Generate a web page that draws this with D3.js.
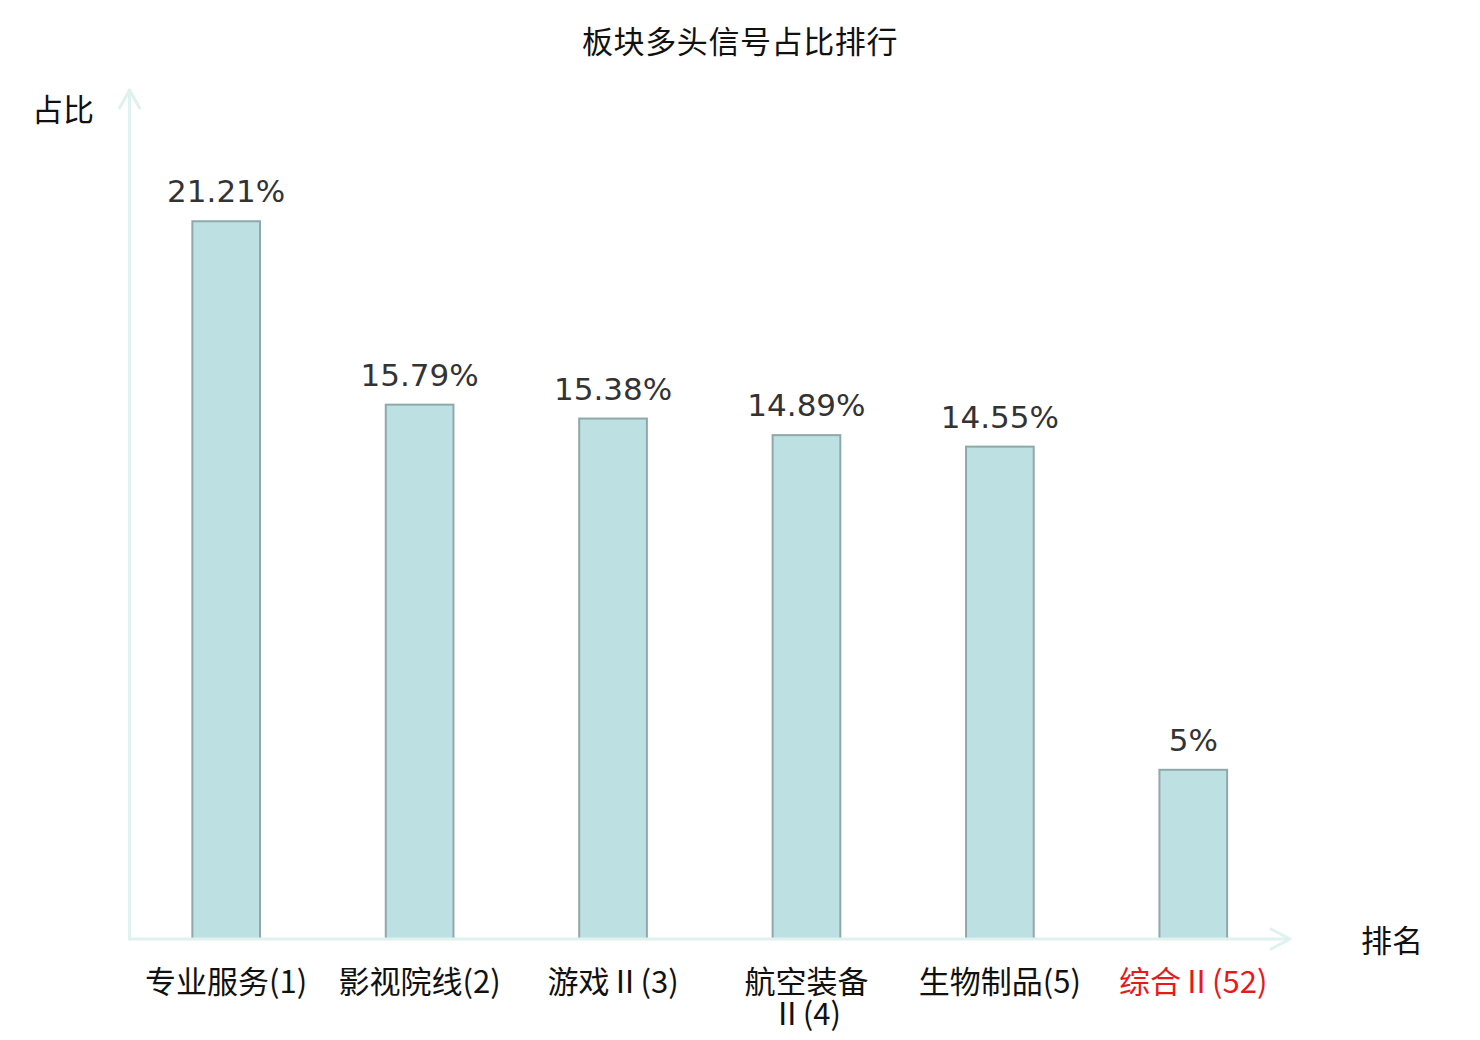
<!DOCTYPE html>
<html>
<head>
<meta charset="utf-8">
<script src="https://cdn.jsdelivr.net/npm/d3@7"></script>
<style>
  body { margin: 0; background: #fff; }
  svg { display: block; }
</style>
</head>
<body>
<div id="viz"></div>
<script>
// data
const categories = ["专业服务(1)", "影视院线(2)", "游戏Ⅱ(3)", "航空装备Ⅱ(4)", "生物制品(5)", "综合Ⅱ(52)"];
const values = [21.21, 15.79, 15.38, 14.89, 14.55, 5];
const valueLabels = ["21.21%", "15.79%", "15.38%", "14.89%", "14.55%", "5%"];
const highlighted = ["综合Ⅱ(52)"];
const yMax = 25;

const width = 1480, height = 1040;
const cjk = "'Noto Sans CJK SC', 'Noto Sans', sans-serif";

const svg = d3.select("#viz")
  .append("svg")
    .attr("width", width)
    .attr("height", height);

// scales: each category gets its own band, bars take ~35% of the band
const xScale = d3.scaleBand()
  .domain(categories)
  .range([129.5, 1290])
  .padding(0);
const barW = xScale.bandwidth() * 0.35;

const yScale = d3.scaleLinear()
  .domain([0, yMax])
  .range([939, 93]);

const axisColor = "#dff2ef";

// title
svg.append("text")
  .attr("x", 740)
  .attr("y", 53)
  .attr("text-anchor", "middle")
  .style("font-family", cjk)
  .style("font-size", "31px")
  .style("letter-spacing", "0.6px")
  .style("fill", "#111")
  .text("板块多头信号占比排行");

// bars
svg.append("g")
  .selectAll("rect")
  .data(values)
  .join("rect")
    .attr("x", (d, i) => xScale(categories[i]) + (xScale.bandwidth() - barW) / 2)
    .attr("y", d => yScale(d))
    .attr("width", barW)
    .attr("height", d => yScale(0) - yScale(d))
    .attr("fill", "#bde0e3")
    .attr("stroke", "#8fa8aa")
    .attr("stroke-width", 2);

// value labels above the bars
svg.append("g")
  .selectAll("text")
  .data(values)
  .join("text")
    .attr("x", (d, i) => xScale(categories[i]) + xScale.bandwidth() / 2)
    .attr("y", d => yScale(d) - 19)
    .attr("text-anchor", "middle")
    .style("font-family", "'DejaVu Sans', sans-serif")
    .style("font-size", "31px")
    .style("fill", "#333")
    .text((d, i) => valueLabels[i]);

// axes with arrow heads (drawn as plain lines, like the original)
const x0 = xScale.range()[0], x1 = xScale.range()[1];
const y0 = yScale(0), y1 = yScale(yMax) - 3;
const axes = svg.append("g")
  .attr("fill", "none")
  .attr("stroke", axisColor)
  .attr("stroke-width", 3)
  .attr("stroke-linecap", "round")
  .attr("stroke-linejoin", "round");
axes.append("path").attr("d", `M${x0},${y0}V${y1}`);
axes.append("path").attr("d", `M${x0 - 10},${y1 + 18}L${x0},${y1}L${x0 + 10},${y1 + 18}`);
axes.append("path").attr("d", `M${x0},${y0}H${x1}`);
axes.append("path").attr("d", `M${x1 - 19},${y0 - 10}L${x1},${y0}L${x1 - 19},${y0 + 10}`);

// axis names
svg.append("text")
  .attr("x", 63)
  .attr("y", 121)
  .attr("text-anchor", "middle")
  .style("font-family", cjk)
  .style("font-size", "31px")
  .style("fill", "#111")
  .text("占比");
svg.append("text")
  .attr("x", 1392)
  .attr("y", 952)
  .attr("text-anchor", "middle")
  .style("font-family", cjk)
  .style("font-size", "31px")
  .style("fill", "#111")
  .text("排名");

// category labels, wrapped when wider than the band
// (each CJK char is a token, runs of other chars stay together)
function tokens(s) {
  return s.match(/[\u3400-\u9fff]|[^\u3400-\u9fff]+/g);
}
const maxLabelW = xScale.bandwidth() * 0.93;

const catG = svg.append("g");
categories.forEach((c, i) => {
  const cx = xScale(c) + xScale.bandwidth() / 2;
  const t = catG.append("text")
    .attr("x", cx)
    .attr("y", 993)
    .attr("text-anchor", "middle")
    .style("font-family", cjk)
    .style("font-size", "31px")
    .style("fill", highlighted.includes(c) ? "#e8191b" : "#111");
  let line = "";
  let tspan = t.append("tspan").attr("x", cx).attr("dy", 0);
  tokens(c).forEach(tok => {
    tspan.text(line + tok);
    if (line !== "" && tspan.node().getComputedTextLength() > maxLabelW) {
      tspan.text(line);
      line = tok;
      tspan = t.append("tspan").attr("x", cx).attr("dy", 32).text(tok);
    } else {
      line = line + tok;
    }
  });
});
</script>
</body>
</html>
